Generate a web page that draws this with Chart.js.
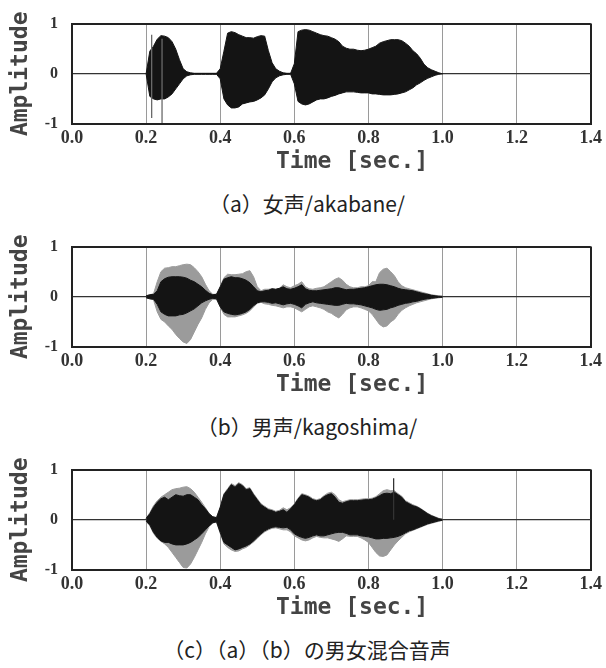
<!DOCTYPE html>
<html>
<head>
<meta charset="utf-8">
<script src="https://cdn.jsdelivr.net/npm/chart.js@4.4.1/dist/chart.umd.min.js"></script>
<style>
  html, body { margin: 0; padding: 0; background: #fff; }
  #wrap { position: relative; width: 606px; height: 668px; overflow: hidden; }
  .panel { position: absolute; left: 0; width: 606px; height: 223px; }
  .panel canvas { position: absolute; left: 0; top: 0; }
  .caption {
    position: absolute; left: 0; top: 188px; width: 606px; padding-left: 8px; box-sizing: border-box;
    height: 30px; line-height: 30px; text-align: center;
    font-family: "Noto Sans CJK JP", "Noto Sans", sans-serif; font-size: 21px; color: #222;
  }
</style>
</head>
<body>
<div id="wrap">
  <div class="panel" style="top:0px">
    <canvas id="chartA" width="606" height="180"></canvas>
    <div class="caption">（a）女声/akabane/</div>
  </div>
  <div class="panel" style="top:223px">
    <canvas id="chartB" width="606" height="180"></canvas>
    <div class="caption">（b）男声/kagoshima/</div>
  </div>
  <div class="panel" style="top:446px">
    <canvas id="chartC" width="606" height="180"></canvas>
    <div class="caption">（c）（a）（b）の男女混合音声</div>
  </div>
</div>
<script>
// time axis of the envelopes [sec.]
var times = [
  0.20, 0.21, 0.22, 0.23, 0.24, 0.25, 0.26, 0.27, 0.28, 0.29,
  0.30, 0.31, 0.32, 0.33, 0.34, 0.35, 0.36, 0.37, 0.38, 0.39,
  0.40, 0.41, 0.42, 0.43, 0.44, 0.45, 0.46, 0.47, 0.48, 0.49,
  0.50, 0.51, 0.52, 0.53, 0.54, 0.55, 0.56, 0.57, 0.58, 0.59,
  0.60, 0.61, 0.62, 0.63, 0.64, 0.65, 0.66, 0.67, 0.68, 0.69,
  0.70, 0.71, 0.72, 0.73, 0.74, 0.75, 0.76, 0.77, 0.78, 0.79,
  0.80, 0.81, 0.82, 0.83, 0.84, 0.85, 0.86, 0.87, 0.88, 0.89,
  0.90, 0.91, 0.92, 0.93, 0.94, 0.95, 0.96, 0.97, 0.98, 0.99,
  1.00
];
var xTicks = [0.0, 0.2, 0.4, 0.6, 0.8, 1.0, 1.2, 1.4];
var yTicks = [-1, 0, 1];

// (a) female /akabane/ : amplitude envelope
var femaleUpper = [
  0.00, 0.45, 0.55, 0.69, 0.76, 0.75, 0.72, 0.64, 0.49, 0.28,
  0.10, 0.04, 0.02, 0.01, 0.01, 0.01, 0.01, 0.01, 0.01, 0.01,
  0.10, 0.45, 0.81, 0.84, 0.82, 0.78, 0.75, 0.72, 0.72, 0.71,
  0.74, 0.76, 0.75, 0.46, 0.22, 0.10, 0.05, 0.02, 0.01, 0.01,
  0.20, 0.84, 0.87, 0.88, 0.87, 0.84, 0.81, 0.78, 0.76, 0.75,
  0.72, 0.69, 0.64, 0.55, 0.51, 0.49, 0.49, 0.47, 0.46, 0.47,
  0.49, 0.52, 0.55, 0.61, 0.64, 0.66, 0.68, 0.68, 0.68, 0.66,
  0.61, 0.55, 0.46, 0.40, 0.31, 0.19, 0.12, 0.08, 0.05, 0.02,
  0.00
];
var femaleLower = [
  0.00, -0.45, -0.50, -0.52, -0.50, -0.50, -0.46, -0.40, -0.30, -0.20,
  -0.10, -0.04, -0.02, -0.01, -0.01, -0.01, -0.01, -0.01, -0.01, -0.01,
  -0.10, -0.50, -0.62, -0.68, -0.68, -0.66, -0.60, -0.58, -0.56, -0.55,
  -0.52, -0.48, -0.42, -0.30, -0.16, -0.08, -0.04, -0.02, -0.01, -0.01,
  -0.20, -0.55, -0.60, -0.62, -0.60, -0.56, -0.52, -0.50, -0.50, -0.48,
  -0.45, -0.43, -0.40, -0.38, -0.36, -0.36, -0.36, -0.37, -0.38, -0.38,
  -0.38, -0.40, -0.40, -0.41, -0.42, -0.42, -0.42, -0.41, -0.40, -0.38,
  -0.36, -0.32, -0.28, -0.22, -0.18, -0.13, -0.09, -0.06, -0.03, -0.01,
  0.00
];
var femaleSpikeTimes = [0.215, 0.243];
var femaleSpikeTop = [0.78, 0.70];
var femaleSpikeBottom = [-0.88, -0.98];

// (b) male /kagoshima/ : outer (light) and core (dark) envelopes
var maleOuterUpper = [
  0.02, 0.04, 0.06, 0.30, 0.50, 0.57, 0.58, 0.60, 0.60, 0.62,
  0.64, 0.65, 0.64, 0.58, 0.50, 0.40, 0.25, 0.12, 0.05, 0.05,
  0.20, 0.38, 0.45, 0.44, 0.44, 0.45, 0.46, 0.50, 0.52, 0.40,
  0.20, 0.12, 0.15, 0.15, 0.16, 0.15, 0.17, 0.24, 0.20, 0.18,
  0.22, 0.25, 0.30, 0.20, 0.16, 0.15, 0.17, 0.18, 0.20, 0.25,
  0.30, 0.35, 0.38, 0.33, 0.25, 0.20, 0.18, 0.18, 0.20, 0.20,
  0.22, 0.30, 0.30, 0.48, 0.55, 0.57, 0.50, 0.42, 0.30, 0.22,
  0.18, 0.16, 0.14, 0.12, 0.10, 0.08, 0.06, 0.04, 0.03, 0.02,
  0.01
];
var maleOuterLower = [
  -0.02, -0.04, -0.06, -0.30, -0.45, -0.50, -0.58, -0.65, -0.75, -0.83,
  -0.90, -0.93, -0.85, -0.70, -0.55, -0.42, -0.25, -0.12, -0.05, -0.05,
  -0.20, -0.35, -0.40, -0.40, -0.40, -0.38, -0.36, -0.33, -0.28, -0.20,
  -0.13, -0.11, -0.14, -0.15, -0.17, -0.18, -0.20, -0.22, -0.20, -0.20,
  -0.22, -0.26, -0.30, -0.25, -0.20, -0.18, -0.20, -0.22, -0.25, -0.30,
  -0.33, -0.38, -0.42, -0.35, -0.26, -0.22, -0.20, -0.20, -0.22, -0.25,
  -0.28, -0.35, -0.45, -0.55, -0.60, -0.58, -0.50, -0.45, -0.35, -0.27,
  -0.22, -0.18, -0.15, -0.12, -0.10, -0.08, -0.06, -0.04, -0.03, -0.02,
  -0.01
];
var maleCoreUpper = [
  0.02, 0.04, 0.05, 0.12, 0.30, 0.36, 0.39, 0.40, 0.40, 0.40,
  0.39, 0.37, 0.33, 0.30, 0.25, 0.20, 0.13, 0.07, 0.04, 0.05,
  0.20, 0.35, 0.38, 0.40, 0.38, 0.38, 0.36, 0.33, 0.28, 0.20,
  0.12, 0.10, 0.12, 0.13, 0.16, 0.15, 0.17, 0.20, 0.16, 0.15,
  0.17, 0.20, 0.24, 0.16, 0.13, 0.12, 0.12, 0.13, 0.14, 0.15,
  0.16, 0.18, 0.18, 0.16, 0.14, 0.15, 0.15, 0.16, 0.17, 0.18,
  0.20, 0.22, 0.24, 0.25, 0.25, 0.24, 0.22, 0.20, 0.17, 0.15,
  0.14, 0.13, 0.12, 0.10, 0.08, 0.06, 0.05, 0.03, 0.02, 0.01,
  0.01
];
var maleCoreLower = [
  -0.02, -0.04, -0.05, -0.15, -0.30, -0.35, -0.38, -0.38, -0.38, -0.36,
  -0.35, -0.32, -0.28, -0.24, -0.18, -0.12, -0.08, -0.05, -0.03, -0.04,
  -0.20, -0.30, -0.33, -0.35, -0.36, -0.35, -0.33, -0.30, -0.25, -0.18,
  -0.12, -0.10, -0.10, -0.11, -0.13, -0.12, -0.14, -0.16, -0.14, -0.13,
  -0.15, -0.18, -0.22, -0.15, -0.12, -0.10, -0.12, -0.13, -0.14, -0.15,
  -0.16, -0.17, -0.17, -0.15, -0.13, -0.14, -0.14, -0.15, -0.16, -0.18,
  -0.20, -0.22, -0.25, -0.27, -0.26, -0.25, -0.22, -0.20, -0.17, -0.15,
  -0.13, -0.12, -0.10, -0.09, -0.07, -0.05, -0.04, -0.03, -0.02, -0.01,
  -0.01
];

// (c) mixture of (a) and (b)
var mixOuterUpper = [
  0.03, 0.14, 0.28, 0.38, 0.45, 0.50, 0.55, 0.60, 0.62, 0.63,
  0.65, 0.66, 0.62, 0.55, 0.45, 0.35, 0.24, 0.13, 0.06, 0.05,
  0.25, 0.52, 0.62, 0.72, 0.68, 0.74, 0.70, 0.62, 0.64, 0.52,
  0.42, 0.32, 0.27, 0.22, 0.20, 0.17, 0.19, 0.24, 0.20, 0.24,
  0.32, 0.43, 0.52, 0.50, 0.47, 0.42, 0.40, 0.42, 0.48, 0.53,
  0.55, 0.50, 0.40, 0.36, 0.38, 0.40, 0.40, 0.40, 0.41, 0.42,
  0.42, 0.43, 0.46, 0.52, 0.58, 0.60, 0.58, 0.58, 0.52, 0.47,
  0.38, 0.34, 0.30, 0.27, 0.23, 0.18, 0.13, 0.09, 0.06, 0.03,
  0.01
];
var mixOuterLower = [
  -0.03, -0.12, -0.27, -0.37, -0.43, -0.48, -0.55, -0.65, -0.75, -0.85,
  -0.95, -0.96, -0.88, -0.75, -0.60, -0.45, -0.28, -0.14, -0.06, -0.05,
  -0.27, -0.48, -0.55, -0.60, -0.63, -0.62, -0.58, -0.55, -0.50, -0.44,
  -0.37, -0.30, -0.24, -0.20, -0.17, -0.16, -0.18, -0.20, -0.20, -0.24,
  -0.32, -0.36, -0.40, -0.42, -0.40, -0.36, -0.33, -0.35, -0.36, -0.36,
  -0.38, -0.40, -0.43, -0.38, -0.32, -0.33, -0.33, -0.33, -0.36, -0.40,
  -0.45, -0.55, -0.65, -0.72, -0.73, -0.70, -0.60, -0.50, -0.42, -0.35,
  -0.28, -0.24, -0.21, -0.18, -0.15, -0.12, -0.09, -0.07, -0.05, -0.03,
  -0.01
];
var mixCoreUpper = [
  0.03, 0.12, 0.25, 0.35, 0.42, 0.45, 0.40, 0.45, 0.50, 0.48,
  0.47, 0.50, 0.50, 0.45, 0.40, 0.30, 0.22, 0.12, 0.06, 0.04,
  0.25, 0.50, 0.60, 0.70, 0.65, 0.72, 0.68, 0.60, 0.62, 0.50,
  0.40, 0.30, 0.25, 0.20, 0.18, 0.15, 0.17, 0.20, 0.15, 0.22,
  0.30, 0.41, 0.50, 0.48, 0.45, 0.40, 0.38, 0.40, 0.46, 0.50,
  0.52, 0.45, 0.35, 0.33, 0.36, 0.38, 0.38, 0.38, 0.39, 0.40,
  0.40, 0.41, 0.44, 0.48, 0.52, 0.53, 0.52, 0.55, 0.50, 0.45,
  0.36, 0.32, 0.28, 0.26, 0.22, 0.17, 0.12, 0.08, 0.05, 0.02,
  0.01
];
var mixCoreLower = [
  -0.03, -0.10, -0.25, -0.35, -0.42, -0.45, -0.45, -0.48, -0.50, -0.50,
  -0.50, -0.48, -0.45, -0.40, -0.35, -0.28, -0.20, -0.12, -0.06, -0.04,
  -0.25, -0.45, -0.50, -0.55, -0.60, -0.58, -0.55, -0.52, -0.48, -0.42,
  -0.35, -0.28, -0.22, -0.18, -0.15, -0.14, -0.15, -0.16, -0.15, -0.20,
  -0.28, -0.32, -0.35, -0.37, -0.35, -0.32, -0.30, -0.32, -0.32, -0.30,
  -0.28, -0.26, -0.25, -0.25, -0.27, -0.30, -0.30, -0.30, -0.32, -0.33,
  -0.34, -0.36, -0.38, -0.38, -0.37, -0.37, -0.36, -0.35, -0.33, -0.30,
  -0.26, -0.22, -0.20, -0.17, -0.14, -0.11, -0.08, -0.06, -0.04, -0.02,
  -0.01
];
var mixSpikeTimes = [0.868];
var mixSpikeTop = [0.83];
var mixSpikeBottom = [0.0];

var DARK = '#141414';
var LIGHT = '#9b9b9b';

function points(values) {
  return times.map(function(t, i) { return {x: t, y: values[i]}; });
}

// upper edge filled down to the lower edge ('+1' = next dataset)
function envelope(upper, lower, color, order) {
  return [{
    data: points(upper), borderColor: color, backgroundColor: color,
    borderWidth: 1, pointRadius: 0, fill: '+1', order: order
  }, {
    data: points(lower), borderColor: color, backgroundColor: color,
    borderWidth: 1, pointRadius: 0, fill: false, order: order
  }];
}

function spikes(ts, tops, bottoms, color) {
  var data = [];
  ts.forEach(function(t, i) {
    data.push({x: t, y: tops[i]}, {x: t, y: bottoms[i]}, {x: t, y: null});
  });
  return {data: data, borderColor: color, borderWidth: 1.3, pointRadius: 0,
          fill: false, spanGaps: false, order: 0};
}

function isEdge(v, lo, hi) {
  return Math.abs(v - lo) < 1e-6 || Math.abs(v - hi) < 1e-6;
}

var tickFont = {family: '"Liberation Serif", "DejaVu Serif", serif', weight: 'bold'};
var titleFont = {family: '"DejaVu Sans Mono", monospace', weight: 'bold', size: 23};

function drawWave(id, datasets) {
  var ctx = document.getElementById(id).getContext('2d');
  return new Chart(ctx, {
    type: 'line',
    data: {datasets: datasets},
    options: {
      responsive: false,
      animation: false,
      devicePixelRatio: 1,
      layout: {padding: {left: 0, top: 13, right: 15, bottom: 0}},
      plugins: {legend: {display: false}, tooltip: {enabled: false}},
      scales: {
        x: {
          type: 'linear', min: xTicks[0], max: xTicks[xTicks.length - 1],
          afterBuildTicks: function(axis) {
            axis.ticks = xTicks.map(function(v) { return {value: v}; });
          },
          afterFit: function(axis) { axis.height = 56; },
          ticks: {
            padding: 4, color: '#333', maxRotation: 0, autoSkip: false,
            font: Object.assign({size: 18}, tickFont),
            callback: function(v) { return Number(v).toFixed(1); }
          },
          grid: {
            drawTicks: false,
            color: function(c) { return isEdge(c.tick.value, 0, 1.4) ? '#222' : '#9a9a9a'; },
            lineWidth: function(c) { return isEdge(c.tick.value, 0, 1.4) ? 2 : 1; }
          },
          border: {display: true, color: '#222', width: 2},
          title: {
            display: true, text: '   Time [sec.]', color: '#444',
            font: titleFont, padding: {top: 0, bottom: 4}
          }
        },
        y: {
          min: -1, max: 1,
          afterBuildTicks: function(axis) {
            axis.ticks = yTicks.map(function(v) { return {value: v}; });
          },
          afterFit: function(axis) { axis.width = 72; },
          ticks: {
            padding: 14, color: '#333',
            font: Object.assign({size: 16}, tickFont)
          },
          grid: {
            drawTicks: false,
            color: function(c) { return isEdge(c.tick.value, -1, 1) ? '#222' : '#333'; },
            lineWidth: function(c) { return isEdge(c.tick.value, -1, 1) ? 2 : 1.3; }
          },
          border: {display: true, color: '#222', width: 2},
          title: {
            display: true, text: 'Amplitude', color: '#444',
            font: titleFont, padding: {top: 7, bottom: 0}
          }
        }
      }
    }
  });
}

drawWave('chartA',
  envelope(femaleUpper, femaleLower, DARK, 1)
    .concat([spikes(femaleSpikeTimes, femaleSpikeTop, femaleSpikeBottom, '#6a6a6a')]));

drawWave('chartB',
  envelope(maleOuterUpper, maleOuterLower, LIGHT, 2)
    .concat(envelope(maleCoreUpper, maleCoreLower, DARK, 1)));

drawWave('chartC',
  envelope(mixOuterUpper, mixOuterLower, LIGHT, 2)
    .concat(envelope(mixCoreUpper, mixCoreLower, DARK, 1))
    .concat([spikes(mixSpikeTimes, mixSpikeTop, mixSpikeBottom, '#333')]));
</script>
</body>
</html>
